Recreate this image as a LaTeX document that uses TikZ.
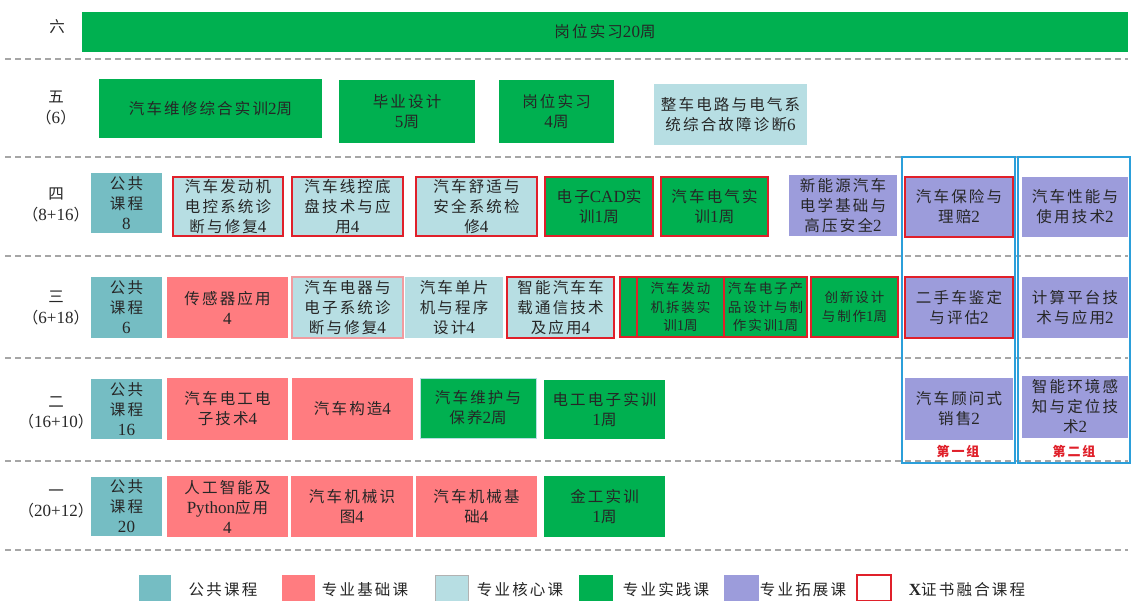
\documentclass[tikz,border=0pt]{standalone}
\usepackage{fontspec}
\setmainfont[LetterSpace=14]{Noto Sans CJK SC}
\newfontfamily\lat[Scale=1.1]{Liberation Serif}
\newcommand\z[1]{{\lat #1}}
\definecolor{cteal}{HTML}{75BDC3}
\definecolor{csalmon}{HTML}{FF7C80}
\definecolor{clblue}{HTML}{B7DEE3}
\definecolor{cgreen}{HTML}{00B050}
\definecolor{cpurple}{HTML}{9C9CDB}
\definecolor{cred}{HTML}{E0202A}
\definecolor{cframe}{HTML}{2B9FDA}
\definecolor{cdash}{HTML}{A6A6A6}
\definecolor{ctext}{HTML}{262626}
\tikzset{
  cbox/.style={inner sep=0pt, align=center, text=ctext, font=\fontsize{15.5}{20}\selectfont},
  pub/.style={fill=cteal},
  base/.style={fill=csalmon},
  core/.style={fill=clblue},
  prac/.style={fill=cgreen},
  ext/.style={fill=cpurple},
  xcert/.style={draw=cred, line width=1.2pt},
  small/.style={font=\fontsize{13.5}{18.5}\selectfont},
  rowlab/.style={align=center, text=ctext, font=\fontsize{15.5}{20.5}\selectfont},
  sep/.style={draw=cdash, line width=1.3pt, dash pattern=on 6pt off 4pt},
  frame/.style={draw=cframe, line width=1.1pt},
  grp/.style={text=cred, font=\fontsize{13}{15}\selectfont\bfseries},
  legtxt/.style={text=ctext, font=\fontsize{15.5}{19}\selectfont},
}
\newcommand\cb[7]{%
  \pgfmathsetmacro\bw{#5-#3}\pgfmathsetmacro\bh{#6-#4}%
  \node[cbox,#2,minimum width=\bw pt,minimum height=\bh pt] (#1) at ({(#3+#5)/2},{(#4+#6)/2}) {#7};}
\begin{document}
\begin{tikzpicture}[x=1pt,y=-1pt]
\useasboundingbox[fill=white] (0,0) rectangle (1131,601);
% separators
\foreach \yy in {59,157,256,358,461,550}
  \draw[sep] (5,\yy) -- (1128,\yy);
% row 6
\node[rowlab] (l6) at (57,27) {六};
\cb{r6}{prac}{82}{12}{1128}{52}{岗位实习\z{20}周}
% row 5
\node[rowlab] (l5) at (56,108) {五\\（\z{6}）};
\cb{a51}{prac}{99}{79}{322}{138}{汽车维修综合实训\z{2}周}
\cb{a52}{prac}{339}{80}{475}{143}{毕业设计\\\z{5}周}
\cb{a53}{prac}{499}{80}{614}{143}{岗位实习\\\z{4}周}
\cb{a54}{core}{654}{84}{807}{145}{整车电路与电气系\\统综合故障诊断\z{6}}
% group frames
\draw[frame] (902,157) rectangle (1015,463);
\draw[frame] (1018,157) rectangle (1130,463);
% row 4
\node[rowlab] (l4) at (56,205) {四\\（\z{8+16}）};
\cb{a41}{pub}{91}{173}{162}{233}{公共\\课程\\\z{8}}
\cb{a42}{core,xcert}{173}{177}{283}{236}{汽车发动机\\电控系统诊\\断与修复\z{4}}
\cb{a43}{core,xcert}{292}{177}{403}{236}{汽车线控底\\盘技术与应\\用\z{4}}
\cb{a44}{core,xcert}{416}{177}{537}{236}{汽车舒适与\\安全系统检\\修\z{4}}
\cb{a45}{prac,xcert}{545}{177}{653}{236}{电子\z{CAD}实\\训\z{1}周}
\cb{a46}{prac,xcert}{661}{177}{768}{236}{汽车电气实\\训\z{1}周}
\cb{a47}{ext}{789}{175}{897}{236}{新能源汽车\\电学基础与\\高压安全\z{2}}
\cb{a48}{ext,xcert}{905}{177}{1013}{237}{汽车保险与\\理赔\z{2}}
\cb{a49}{ext}{1022}{177}{1128}{237}{汽车性能与\\使用技术\z{2}}
% row 3
\node[rowlab] (l3) at (56,308) {三\\（\z{6+18}）};
\cb{a31}{pub}{91}{277}{162}{338}{公共\\课程\\\z{6}}
\cb{a32}{base}{167}{277}{288}{338}{传感器应用\\\z{4}}
\cb{a33}{core,draw=cred!45,line width=1.2pt}{292}{277}{403}{338}{汽车电器与\\电子系统诊\\断与修复\z{4}}
\cb{a34}{core}{405}{277}{503}{338}{汽车单片\\机与程序\\设计\z{4}}
\cb{a35}{core,xcert}{507}{277}{614}{338}{智能汽车车\\载通信技术\\及应用\z{4}}
\cb{a36}{prac,xcert}{620}{277}{807}{337}{}
\cb{a37}{prac,xcert,small}{637}{277}{724}{337}{汽车发动\\机拆装实\\训\z{1}周}
\cb{a38}{prac,xcert,small}{724}{277}{807}{337}{汽车电子产\\品设计与制\\作实训\z{1}周}
\cb{a39}{prac,xcert,small}{811}{277}{898}{337}{创新设计\\与制作\z{1}周}
\cb{a3a}{ext,xcert}{905}{277}{1013}{338}{二手车鉴定\\与评估\z{2}}
\cb{a3b}{ext}{1022}{277}{1128}{338}{计算平台技\\术与应用\z{2}}
% row 2
\node[rowlab] (l2) at (56,413) {二\\（\z{16+10}）};
\cb{a21}{pub}{91}{379}{162}{439}{公共\\课程\\\z{16}}
\cb{a22}{base}{167}{378}{288}{440}{汽车电工电\\子技术\z{4}}
\cb{a23}{base}{292}{378}{413}{440}{汽车构造\z{4}}
\cb{a24}{prac,draw=clblue,line width=1pt}{420}{378}{536}{438}{汽车维护与\\保养\z{2}周}
\cb{a25}{prac}{544}{380}{665}{439}{电工电子实训\\\z{1}周}
\cb{a26}{ext}{905}{378}{1013}{440}{汽车顾问式\\销售\z{2}}
\cb{a27}{ext}{1022}{376}{1128}{438}{智能环境感\\知与定位技\\术\z{2}}
\node[grp] (g1) at (958,451) {第一组};
\node[grp] (g2) at (1074,451) {第二组};
% row 1
\node[rowlab] (l1) at (56,504) {一\\（\z{20+12}）};
\cb{a11}{pub}{91}{477}{162}{536}{公共\\课程\\\z{20}}
\cb{a12}{base}{167}{476}{288}{537}{人工智能及\\\z{Python}应用\\\z{4}}
\cb{a13}{base}{291}{476}{413}{537}{汽车机械识\\图\z{4}}
\cb{a14}{base}{416}{476}{537}{537}{汽车机械基\\础\z{4}}
\cb{a15}{prac}{544}{476}{665}{537}{金工实训\\\z{1}周}
% legend
\cb{k1}{pub}{139}{575}{171}{601}{}
\node[legtxt] (t1) at (223,590) {公共课程};
\cb{k2}{base}{282}{575}{315}{601}{}
\node[legtxt] (t2) at (365,590) {专业基础课};
\cb{k3}{core,draw=black!30,line width=0.8pt}{435}{575}{468}{601}{}
\node[legtxt] (t3) at (520,590) {专业核心课};
\cb{k4}{prac}{579}{575}{613}{601}{}
\node[legtxt] (t4) at (666,590) {专业实践课};
\cb{k5}{ext}{724}{575}{759}{601}{}
\node[legtxt] (t5) at (803,590) {专业拓展课};
\cb{k6}{fill=white,xcert}{857}{575}{891}{601}{}
\node[legtxt] (t6) at (967,590) {\z{\bfseries X}证书融合课程};
\end{tikzpicture}
\end{document}
